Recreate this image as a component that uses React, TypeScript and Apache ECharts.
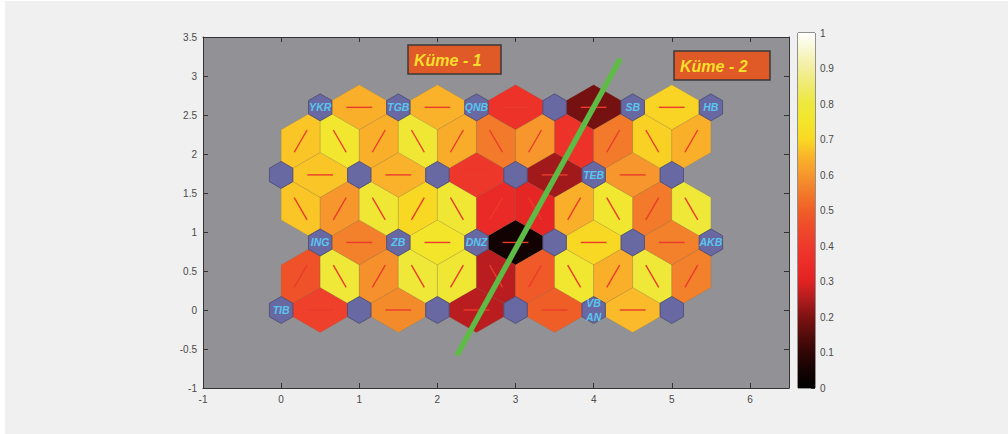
import React, { useEffect, useRef } from "react";
import * as echarts from "echarts";

// ---- data ----
// distances between neighbouring neurons (hexagonal 6x4 SOM)
const hRow0 = [0.42, 0.58, 0.26, 0.5, 0.66];
const dRow01 = [0.47, 0.79, 0.59, 0.79, 0.78, 0.26, 0.49, 0.77, 0.645, 0.79, 0.56];
const hRow1 = [0.56, 0.75, 0.04, 0.7, 0.56];
const dRow12 = [0.675, 0.6, 0.78, 0.7, 0.78, 0.34, 0.32, 0.645, 0.77, 0.55, 0.79];
const hRow2 = [0.675, 0.65, 0.39, 0.235, 0.6];
const dRow23 = [0.675, 0.76, 0.645, 0.78, 0.64, 0.55, 0.6, 0.37, 0.55, 0.69, 0.645];
const hRow3 = [0.645, 0.65, 0.37, 0.19, 0.695];

const neuronNames = [
  ["TIB", "", "", "", "VB\nAN", ""],
  ["ING", "ZB", "DNZ", "", "", "AKB"],
  ["", "", "", "", "TEB", ""],
  ["YKR", "TGB", "QNB", "", "SB", "HB"],
];

const clusterLabels = ["Küme - 1", "Küme - 2"];
const splitLine = [
  [2.25, -0.58],
  [4.34, 3.22],
];

const xTicks = { min: -1, max: 6.5, interval: 1 };
const yTicks = { min: -1, max: 3.5, interval: 0.5 };
const cbarTicks = { min: 0, max: 1, interval: 0.1 };

// colormap at 0, 0.05, ..., 1
const cmap = [
  "#000000", "#160303", "#300606", "#560c0c", "#7e1212", "#b01c1e", "#e02222",
  "#ec2c28", "#ee3a2c", "#ee4a2a", "#f05e28", "#f27a2a", "#f6962c", "#fab22a",
  "#f9d823", "#f3e62a", "#eee83c", "#efea6c", "#f2ee9c", "#f8f6cc", "#ffffff",
];

const SQ3 = Math.sqrt(3);
const ROW_H = SQ3 / 2;
const rowOffset = (r: number) => (r % 2 === 1 ? 0.5 : 0);

// build neighbour pairs [x1, y1, x2, y2, value]
const hRows = [hRow0, hRow1, hRow2, hRow3];
const dRows = [dRow01, dRow12, dRow23];
const regionData: number[][] = [];
hRows.forEach((vals, r) => {
  const o = rowOffset(r);
  vals.forEach((v, k) => {
    regionData.push([o + k, r * ROW_H, o + k + 1, r * ROW_H, v]);
  });
});
dRows.forEach((vals, r) => {
  const oLow = rowOffset(r);
  vals.forEach((v, j) => {
    const cx = 0.25 + 0.5 * j;
    const a = cx - 0.25;
    const b = cx + 0.25;
    const aInLow = Math.abs((a - oLow) - Math.round(a - oLow)) < 1e-6;
    const lowX = aInLow ? a : b;
    const upX = aInLow ? b : a;
    regionData.push([lowX, r * ROW_H, upX, (r + 1) * ROW_H, v]);
  });
});

const neuronData: (number | string)[][] = [];
neuronNames.forEach((row, r) => {
  row.forEach((name, k) => {
    neuronData.push([rowOffset(r) + k, r * ROW_H, name]);
  });
});

const FONT = '"Liberation Sans", Arial, Helvetica, sans-serif';
const AXIS_COLOR = "#333333";
const LABEL_COLOR = "#4a4a4a";

export default function App() {
  const ref = useRef<HTMLDivElement>(null);

  useEffect(() => {
    if (!ref.current) return;
    const chart = echarts.init(ref.current, undefined, { renderer: "svg" });
    const HALF_EDGE = 1 / (2 * SQ3);
    const S = 0.3;
    const NEURON_R = S / SQ3;

    const lerp = (p: number[], q: number[], t: number) => [
      p[0] + (q[0] - p[0]) * t,
      p[1] + (q[1] - p[1]) * t,
    ];

    const regionRender = (params: any, api: any) => {
      const c1 = [api.value(0), api.value(1)];
      const c2 = [api.value(2), api.value(3)];
      const m = [(c1[0] + c2[0]) / 2, (c1[1] + c2[1]) / 2];
      const dx = c2[0] - c1[0];
      const dy = c2[1] - c1[1];
      const len = Math.hypot(dx, dy);
      const px = -dy / len;
      const py = dx / len;
      const e1 = [m[0] + HALF_EDGE * px, m[1] + HALF_EDGE * py];
      const e2 = [m[0] - HALF_EDGE * px, m[1] - HALF_EDGE * py];
      const pts = [lerp(c1, e1, S), e1, lerp(c2, e1, S), lerp(c2, e2, S), e2, lerp(c1, e2, S)].map(
        (p) => api.coord(p)
      );
      const l1 = api.coord(lerp(c1, c2, 0.335));
      const l2 = api.coord(lerp(c1, c2, 0.665));
      return {
        type: "group",
        children: [
          {
            type: "polygon",
            shape: { points: pts },
            style: { fill: api.visual("color"), stroke: "rgba(110,90,40,0.22)", lineWidth: 0.7 },
          },
          {
            type: "line",
            shape: { x1: l1[0], y1: l1[1], x2: l2[0], y2: l2[1] },
            style: { stroke: "#ea3b2c", lineWidth: 1.4 },
          },
        ],
      };
    };

    const neuronRender = (params: any, api: any) => {
      const cx = api.value(0);
      const cy = api.value(1);
      const name = api.value(2);
      const pts: number[][] = [];
      for (let k = 0; k < 6; k++) {
        const ang = ((30 + 60 * k) * Math.PI) / 180;
        pts.push(api.coord([cx + NEURON_R * Math.cos(ang), cy + NEURON_R * Math.sin(ang)]));
      }
      const c = api.coord([cx, cy]);
      const children: any[] = [
        {
          type: "polygon",
          shape: { points: pts },
          style: { fill: "#6868a2", stroke: "#4a4a72", lineWidth: 0.8 },
        },
      ];
      if (name) {
        children.push({
          type: "text",
          x: c[0],
          y: c[1],
          style: {
            text: String(name),
            fill: "#5ac6ee",
            font: `italic bold 10.5px ${FONT}`,
            align: "center",
            verticalAlign: "middle",
            lineHeight: 14,
          },
        });
      }
      return { type: "group", children };
    };

    const gradStops = cmap.map((color, i) => ({ offset: 1 - i / (cmap.length - 1), color })).reverse();

    const boxes = [
      { x: 408, y: 45, w: 93, h: 29 },
      { x: 674, y: 51, w: 96, h: 29 },
    ];

    chart.setOption({
      animation: false,
      backgroundColor: "transparent",
      textStyle: { fontFamily: FONT },
      grid: [
        {
          left: 203,
          top: 37,
          width: 586,
          height: 351,
          show: true,
          backgroundColor: "#929296",
          borderWidth: 0,
        },
        { left: 798, top: 33, width: 17, height: 355, show: true, borderColor: AXIS_COLOR, borderWidth: 1 },
      ],
      xAxis: [
        {
          type: "value",
          gridIndex: 0,
          min: xTicks.min,
          max: xTicks.max,
          interval: xTicks.interval,
          position: "bottom",
          axisLine: { onZero: false, lineStyle: { color: AXIS_COLOR } },
          axisTick: { inside: true, length: 5, lineStyle: { color: AXIS_COLOR } },
          axisLabel: {
            color: LABEL_COLOR,
            fontSize: 10,
            margin: 6,
            formatter: (v: number) => (Number.isInteger(v) ? String(v) : ""),
          },
          splitLine: { show: false },
        },
        {
          type: "value",
          gridIndex: 0,
          min: xTicks.min,
          max: xTicks.max,
          interval: xTicks.interval,
          position: "top",
          axisLine: { onZero: false, lineStyle: { color: AXIS_COLOR } },
          axisTick: { inside: true, length: 5, lineStyle: { color: AXIS_COLOR } },
          axisLabel: { show: false },
          splitLine: { show: false },
        },
        {
          type: "category",
          gridIndex: 1,
          data: ["c"],
          show: false,
        },
      ],
      yAxis: [
        {
          type: "value",
          gridIndex: 0,
          min: yTicks.min,
          max: yTicks.max,
          interval: yTicks.interval,
          position: "left",
          axisLine: { show: true, onZero: false, lineStyle: { color: AXIS_COLOR } },
          axisTick: { show: true, inside: true, length: 5, lineStyle: { color: AXIS_COLOR } },
          axisLabel: { color: LABEL_COLOR, fontSize: 10, margin: 6 },
          splitLine: { show: false },
        },
        {
          type: "value",
          gridIndex: 0,
          min: yTicks.min,
          max: yTicks.max,
          interval: yTicks.interval,
          position: "right",
          axisLine: { show: true, onZero: false, lineStyle: { color: AXIS_COLOR } },
          axisTick: { show: true, inside: true, length: 5, lineStyle: { color: AXIS_COLOR } },
          axisLabel: { show: false },
          splitLine: { show: false },
        },
        {
          type: "value",
          gridIndex: 1,
          min: cbarTicks.min,
          max: cbarTicks.max,
          interval: cbarTicks.interval,
          position: "right",
          axisLine: { show: false, onZero: false },
          axisTick: { show: true, inside: true, length: 4, lineStyle: { color: AXIS_COLOR } },
          axisLabel: { color: LABEL_COLOR, fontSize: 10, margin: 5 },
          splitLine: { show: false },
        },
      ],
      visualMap: {
        type: "continuous",
        show: false,
        min: 0,
        max: 1,
        dimension: 4,
        seriesIndex: 0,
        inRange: { color: cmap },
      },
      series: [
        {
          type: "custom",
          xAxisIndex: 0,
          yAxisIndex: 0,
          renderItem: regionRender,
          data: regionData,
          z: 2,
          silent: true,
        },
        {
          type: "custom",
          xAxisIndex: 0,
          yAxisIndex: 0,
          renderItem: neuronRender,
          data: neuronData,
          z: 3,
          silent: true,
        },
        {
          type: "line",
          xAxisIndex: 0,
          yAxisIndex: 0,
          data: splitLine,
          showSymbol: false,
          symbol: "none",
          lineStyle: { color: "#5dbb46", width: 5.5, cap: "butt" },
          z: 5,
          silent: true,
        },
        {
          type: "bar",
          xAxisIndex: 2,
          yAxisIndex: 2,
          data: [1],
          barWidth: "100%",
          itemStyle: { color: new echarts.graphic.LinearGradient(0, 0, 0, 1, gradStops) },
          silent: true,
        },
      ],
      graphic: boxes.map((b, i) => ({
        type: "group",
        x: b.x,
        y: b.y,
        z: 100,
        children: [
          {
            type: "rect",
            shape: { x: 0, y: 0, width: b.w, height: b.h },
            style: { fill: "#df5a26", stroke: "#3a3a3a", lineWidth: 1.5 },
          },
          {
            type: "text",
            x: 6,
            y: b.h / 2 + 1,
            style: {
              text: clusterLabels[i],
              fill: "#f7de2c",
              font: `italic bold 16px ${FONT}`,
              align: "left",
              verticalAlign: "middle",
            },
          },
        ],
      })),
    });

    return () => chart.dispose();
  }, []);

  return (
    <div style={{ position: "fixed", left: 0, top: 0, width: 1008, height: 434, background: "#ffffff" }}>
      <div style={{ position: "absolute", left: 5, top: 1, right: 0, bottom: 0, background: "#f0f0f0" }} />
      <div ref={ref} style={{ position: "absolute", left: 0, top: 0, width: 1008, height: 434 }} />
    </div>
  );
}
